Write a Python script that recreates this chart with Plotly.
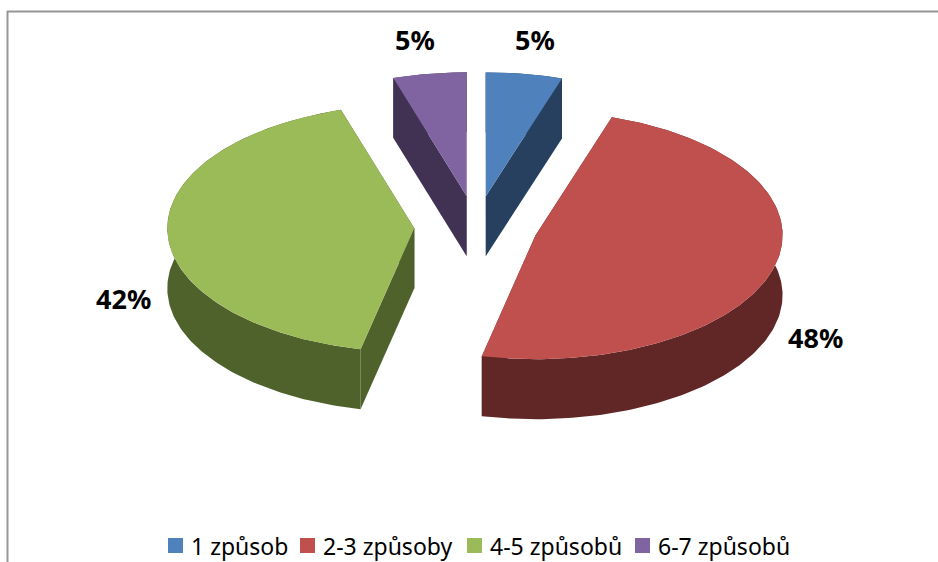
import math
import plotly.graph_objects as go

# Chart data
categories = ["1 způsob", "2-3 způsoby", "4-5 způsobů", "6-7 způsobů"]
shares = [5.0, 48.49, 41.71, 4.8]

# Slice colours: top face and shaded side
top_colors = ["#4F81BD", "#C0504D", "#9BBB59", "#8064A2"]
side_colors = ["#28405F", "#602726", "#4F622C", "#413152"]

# Pie projection, in pixels of the 938x562 page
CX, CY = 476.0, 227.0
RX, RY = 247.0, 124.0
DEPTH = 60.0
EXPLODE = 0.25

# Label and legend placement
label_pos = [(535, 39.5), (815, 337.5), (123, 298.5), (415, 39.5)]
swatch_x = [168, 300, 467, 635]
legend_text_x = [189, 321, 488, 656]
SWATCH_W, SWATCH_Y0, SWATCH_Y1 = 15, 538, 553
LEGEND_TEXT_Y = 546


def rim(ax, ay, deg):
    a = math.radians(deg)
    return ax + RX * math.sin(a), ay - RY * math.cos(a)


def polygon(fig, pts, color):
    fig.add_trace(go.Scatter(
        x=[p[0] for p in pts] + [pts[0][0]],
        y=[p[1] for p in pts] + [pts[0][1]],
        mode="lines",
        fill="toself",
        fillcolor=color,
        line=dict(width=0, color=color),
        hoverinfo="skip",
        showlegend=False,
    ))


def lowered(pts):
    return [(x, y + DEPTH) for x, y in pts]


fig = go.Figure()
total = sum(shares)
start = 0.0
for share, top, side in zip(shares, top_colors, side_colors):
    sweep = 360.0 * share / total
    end = start + sweep
    mid = math.radians((start + end) / 2)
    ax = CX + EXPLODE * RX * math.sin(mid)
    ay = CY - EXPLODE * RY * math.cos(mid)
    n = max(4, int(sweep))
    arc = [rim(ax, ay, start + sweep * i / n) for i in range(n + 1)]
    apex = (ax, ay)

    # Side walls first, then the outer wall, then the lid
    polygon(fig, [apex, arc[0], *lowered([arc[0], apex])], side)
    polygon(fig, [apex, arc[-1], *lowered([arc[-1], apex])], side)
    polygon(fig, arc + lowered(arc)[::-1], side)
    polygon(fig, [apex] + arc, top)
    start = end

annotations = []
for share, (x, y) in zip(shares, label_pos):
    annotations.append(dict(
        x=x, y=y, xref="x", yref="y", showarrow=False,
        text=f"<b>{round(share)}%</b>",
        font=dict(family="Noto Sans", size=27, color="#000000"),
    ))
for name, x in zip(categories, legend_text_x):
    annotations.append(dict(
        x=x, y=LEGEND_TEXT_Y, xref="x", yref="y", showarrow=False,
        xanchor="left", text=name,
        font=dict(family="Noto Sans", size=23, color="#000000"),
    ))

shapes = [
    dict(type="line", x0=7.5, x1=7.5, y0=11, y1=562, xref="x", yref="y",
         line=dict(color="#969696", width=2)),
    dict(type="line", x0=7, x1=938, y0=11.5, y1=11.5, xref="x", yref="y",
         line=dict(color="#969696", width=2)),
]
for x, color in zip(swatch_x, top_colors):
    shapes.append(dict(
        type="rect", x0=x, x1=x + SWATCH_W, y0=SWATCH_Y0, y1=SWATCH_Y1,
        xref="x", yref="y", fillcolor=color, line=dict(width=0),
    ))

fig.update_layout(
    width=938,
    height=562,
    margin=dict(l=0, r=0, t=0, b=0),
    paper_bgcolor="#FFFFFF",
    plot_bgcolor="#FFFFFF",
    showlegend=False,
    xaxis=dict(range=[0, 938], visible=False, fixedrange=True),
    yaxis=dict(range=[562, 0], visible=False, fixedrange=True),
    annotations=annotations,
    shapes=shapes,
)

fig.write_html("out.html", config=dict(displayModeBar=False))
